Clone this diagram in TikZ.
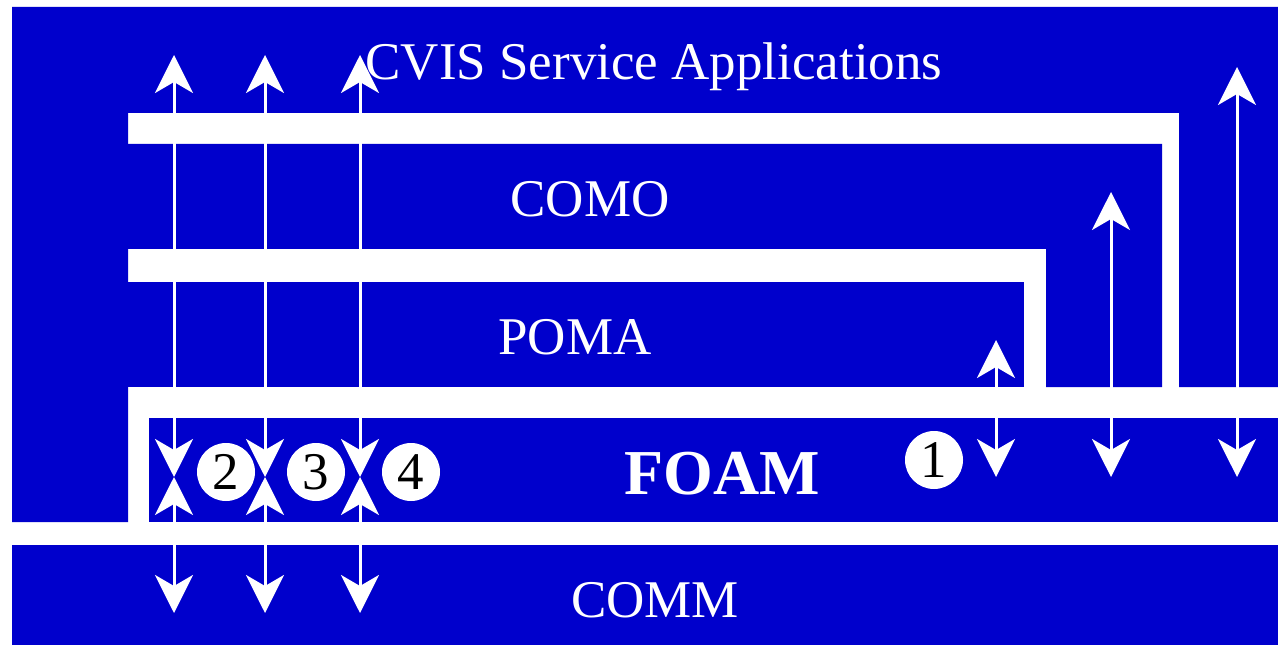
\documentclass[tikz,border=0pt]{standalone}
\usepackage{fontspec}
\setmainfont{Liberation Serif}
\usetikzlibrary{arrows.meta}
\definecolor{layerblue}{RGB}{0,0,204}

\begin{document}
\begin{tikzpicture}[x=0.5pt, y=-0.5pt,
  layer/.style={fill=layerblue},
  layername/.style={text=white, inner sep=0pt, anchor=base, font=\fontsize{26.5}{30}\selectfont},
  num/.style={circle, fill=white, text=black, minimum size=29pt, inner sep=0pt, font=\fontsize{26.5}{30}\selectfont},
  iface/.style={draw=white, line width=1.5pt, {Stealth[length=19pt,width=19pt,inset=5.5pt]}-{Stealth[length=19pt,width=19pt,inset=5.5pt]}}]
\useasboundingbox (0,0) rectangle (1278,646);

\fill[layer] (12,7) -- (1278,7) -- (1278,387) -- (1179,387) -- (1179,113) -- (128,113) -- (128,522) -- (12,522) -- cycle;
\fill[layer] (128,144) -- (1162,144) -- (1162,387) -- (1046,387) -- (1046,249) -- (128,249) -- cycle;
\fill[layer] (128,282) rectangle (1024,387);
\fill[layer] (149,418) rectangle (1278,522);
\fill[layer] (12,545) rectangle (1278,645);

\coordinate (a2top) at (174,55);
\coordinate (a2mid) at (174,477);
\coordinate (a2bot) at (174,613);
\coordinate (a3top) at (265,55);
\coordinate (a3mid) at (265,477);
\coordinate (a3bot) at (265,613);
\coordinate (a4top) at (360,55);
\coordinate (a4mid) at (360,477);
\coordinate (a4bot) at (360,613);
\coordinate (pomatop) at (996,340);
\coordinate (pomabot) at (996,477);
\coordinate (comotop) at (1111,192);
\coordinate (comobot) at (1111,477);
\coordinate (cvistop) at (1237,67);
\coordinate (cvisbot) at (1237,477);

\draw[iface] (a2top) -- (a2mid);
\draw[iface] (a2mid) -- (a2bot);
\draw[iface] (a3top) -- (a3mid);
\draw[iface] (a3mid) -- (a3bot);
\draw[iface] (a4top) -- (a4mid);
\draw[iface] (a4mid) -- (a4bot);
\draw[iface] (pomatop) -- (pomabot);
\draw[iface] (comotop) -- (comobot);
\draw[iface] (cvistop) -- (cvisbot);

\node[num] (n1) at (934,460) {1};
\node[num] (n2) at (226,472) {2};
\node[num] (n3) at (316,472) {3};
\node[num] (n4) at (411,472) {4};

\node[layername] (cvis) at (654,80) {CVIS Service Applications};
\node[layername] (como) at (590,217) {COMO};
\node[layername] (poma) at (575,354) {POMA};
\node[layername, font=\fontsize{32}{36}\selectfont\bfseries] (foam) at (722,494) {FOAM};
\node[layername] (comm) at (655,617) {COMM};
\end{tikzpicture}
\end{document}
